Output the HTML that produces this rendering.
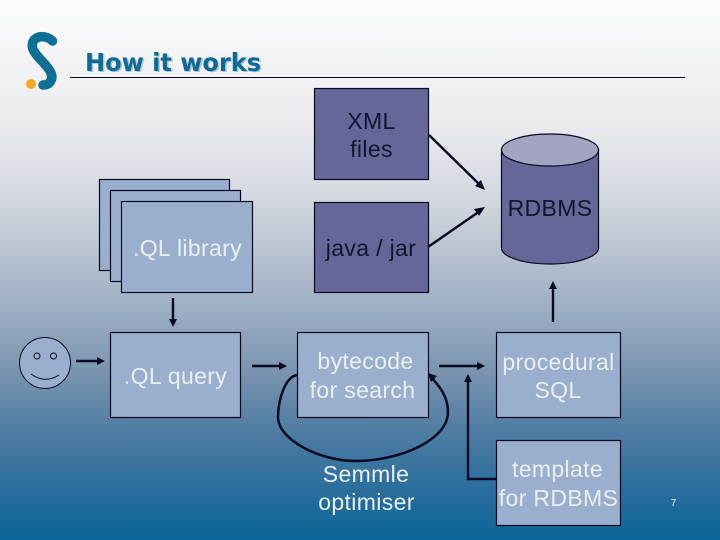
<!DOCTYPE html>
<html>
<head>
<meta charset="utf-8">
<style>
html,body{margin:0;padding:0;width:720px;height:540px;overflow:hidden}
svg{display:block}
text{font-family:"Liberation Sans",sans-serif;font-size:23px;text-anchor:middle;letter-spacing:0.35px}
.w{fill:#e9eff5}
.k{fill:#14142e}
.b{fill:#99afcd;stroke:#050a20;stroke-width:1.2}
.p{fill:#666699;stroke:#050a20;stroke-width:1.2}
.l{stroke:#050a20;stroke-width:2.4;fill:none}
.h{fill:#050a20}
</style>
</head>
<body>
<svg width="720" height="540" viewBox="0 0 720 540" xmlns="http://www.w3.org/2000/svg">
<defs>
<linearGradient id="bg" x1="0" y1="0" x2="0" y2="1">
<stop offset="0" stop-color="#fbfcfc"/>
<stop offset="0.23" stop-color="#ebebee"/>
<stop offset="0.37" stop-color="#d3d7df"/>
<stop offset="0.5" stop-color="#b0bccb"/>
<stop offset="0.575" stop-color="#9caec4"/>
<stop offset="0.685" stop-color="#7b95b0"/>
<stop offset="0.8" stop-color="#4f7ca2"/>
<stop offset="0.91" stop-color="#296d9c"/>
<stop offset="1" stop-color="#0b6598"/>
</linearGradient>
</defs>
<rect width="720" height="540" fill="url(#bg)"/>

<!-- logo -->
<path d="M52.500 41 C48 36.500 41 35.500 36.500 38 C31.500 41 31 47 34.500 52 C39 59 47 65 50.500 72 C54 79 50 85 43 85" fill="none" stroke="#0e6f95" stroke-width="9.500" stroke-linecap="round"/>
<circle cx="31" cy="84" r="5" fill="#f7a823"/>

<!-- title -->
<text x="173.500" y="71" style="font-size:25px;font-weight:bold;font-family:'DejaVu Sans',sans-serif;letter-spacing:0" fill="#a9c4d8" transform="translate(1 1)" textLength="176" lengthAdjust="spacingAndGlyphs">How it works</text>
<text x="173" y="71" style="font-size:25px;font-weight:bold;font-family:'DejaVu Sans',sans-serif;letter-spacing:0" fill="#0e6a94" textLength="176" lengthAdjust="spacingAndGlyphs">How it works</text>
<rect x="70" y="77" width="615" height="1" fill="#050a20"/>

<!-- boxes -->
<rect class="b" x="99.500" y="179.500" width="130" height="91"/>
<rect class="b" x="110.500" y="190.500" width="130" height="91"/>
<rect class="b" x="121.500" y="201.500" width="131" height="91"/>
<rect class="b" x="110.500" y="332.500" width="130" height="85"/>
<rect class="p" x="314.500" y="88.500" width="114" height="91"/>
<rect class="p" x="314.500" y="202.500" width="114" height="90"/>
<rect class="b" x="297.500" y="332.500" width="131" height="85"/>
<rect class="b" x="496.500" y="332.500" width="124" height="85"/>
<rect class="b" x="496.500" y="440.500" width="124" height="85"/>

<!-- cylinder -->
<path d="M501.500 150 V248 A48.500 16 0 0 0 598.500 248 V150 Z" class="p"/>
<ellipse cx="550" cy="150" rx="48.500" ry="16" fill="#a3a3c2" stroke="#050a20" stroke-width="1.200"/>

<!-- smiley -->
<circle cx="45" cy="363" r="25.500" fill="#99afcd" stroke="#050a20" stroke-width="1"/>
<circle cx="37" cy="356" r="3" fill="none" stroke="#050a20" stroke-width="1"/>
<circle cx="53.500" cy="356" r="3" fill="none" stroke="#050a20" stroke-width="1"/>
<path d="M31 374 Q45 384 59 375" fill="none" stroke="#050a20" stroke-width="1"/>

<!-- connectors -->
<line class="l" x1="429" y1="135" x2="480" y2="185"/>
<polygon class="h" points="485,190 475,186 481,180"/>
<line class="l" x1="428" y1="247" x2="480" y2="211"/>
<polygon class="h" points="485,207 479,216 474,209"/>
<line class="l" x1="173" y1="298" x2="173" y2="320"/>
<polygon class="h" points="173,327 169,319 177,319"/>
<line class="l" x1="76" y1="361" x2="98" y2="361"/>
<polygon class="h" points="105,361 97,357 97,365"/>
<line class="l" x1="252" y1="366" x2="280" y2="366"/>
<polygon class="h" points="287,366 279,362 279,370"/>
<line class="l" x1="439" y1="366" x2="478" y2="366"/>
<polygon class="h" points="485,366 477,362 477,370"/>
<polyline class="l" points="496,479 468,479 468,380"/>
<polygon class="h" points="468,374 464,382 472,382"/>
<line class="l" x1="553" y1="322" x2="553" y2="288"/>
<polygon class="h" points="553,281 549,289 557,289"/>
<path class="l" d="M297 375 C285 377 278 400 278 418 C279 440 320 461 355 461 C400 461 448 440 448 412 C448 395 438 385 431 377" style="stroke-width:2.500"/>
<polygon class="h" points="428,373 437,376 431,382"/>

<!-- labels -->
<text class="k" x="371.500" y="129">XML</text>
<text class="k" x="371.500" y="157">files</text>
<text class="k" x="550" y="216">RDBMS</text>
<text class="k" x="371" y="256">java / jar</text>
<text class="w" x="187.500" y="256">.QL library</text>
<text class="w" x="175.500" y="384">.QL query</text>
<text class="w" x="365.500" y="369">bytecode</text>
<text class="w" x="362.500" y="398">for search</text>
<text class="w" x="366" y="482">Semmle</text>
<text class="w" x="366.500" y="510">optimiser</text>
<text class="w" x="558.500" y="370">procedural</text>
<text class="w" x="558" y="398">SQL</text>
<text class="w" x="557.500" y="477">template</text>
<text class="w" x="558.500" y="506">for RDBMS</text>
<text class="w" x="673.500" y="506" style="font-size:10px;letter-spacing:0">7</text>
</svg>
</body>
</html>
